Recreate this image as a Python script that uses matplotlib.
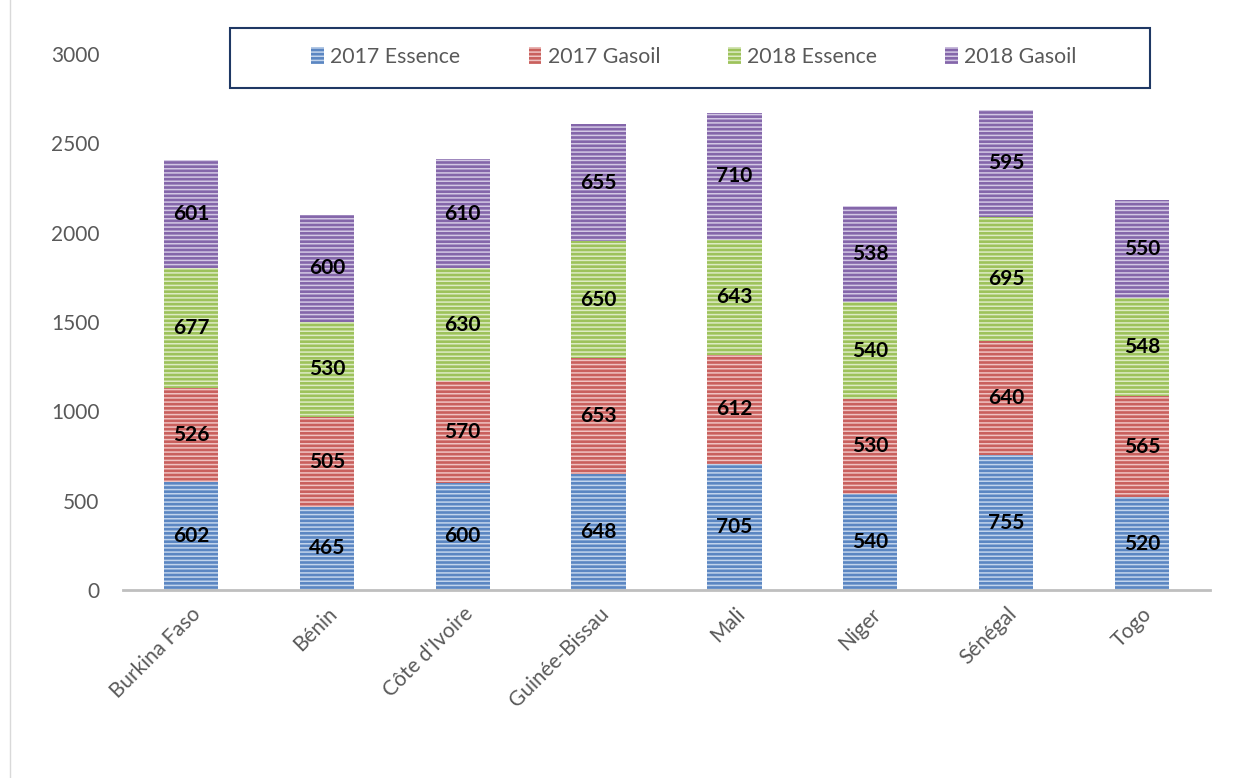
import matplotlib
matplotlib.use("Agg")
import matplotlib.pyplot as plt
import numpy as np
from matplotlib.patches import Rectangle
from matplotlib.lines import Line2D

countries = ["Burkina Faso", "Bénin", "Côte d'Ivoire", "Guinée-Bissau", "Mali", "Niger", "Sénégal", "Togo"]
ess_2017 = [602, 465, 600, 648, 705, 540, 755, 520]
gas_2017 = [526, 505, 570, 653, 612, 530, 640, 565]
ess_2018 = [677, 530, 630, 650, 643, 540, 695, 548]
gas_2018 = [601, 600, 610, 655, 710, 538, 595, 550]
series_names = ["2017 Essence", "2017 Gasoil", "2018 Essence", "2018 Gasoil"]
yticks = [0, 500, 1000, 1500, 2000, 2500, 3000]

colors = ["#5B86C2", "#C9605D", "#9DC25B", "#8466AA"]
hatch_colors = ["#C2D4EC", "#EFC3C2", "#DDEBC4", "#D3C8E4"]

plt.rcParams['font.family'] = ['Lato', 'DejaVu Sans']
plt.rcParams['hatch.linewidth'] = 1.1

fig = plt.figure(figsize=(12.34, 7.78), dpi=100)
ax = fig.add_axes([0.0997, 0.2416, 0.8808, 0.689])

x = np.arange(len(countries))
bottom = np.zeros(len(countries))
handles = []
for vals, name, c, hc in zip([ess_2017, gas_2017, ess_2018, gas_2018], series_names, colors, hatch_colors):
    vals = np.array(vals, dtype=float)
    bars = ax.bar(x, vals, 0.40, bottom=bottom, color=c, edgecolor=hc, linewidth=0,
                  hatch='----', label=name)
    for xi, b, v in zip(x, bottom, vals):
        ax.text(xi, b + v / 2, f"{int(v)}", ha='center', va='center',
                fontsize=15, fontweight='bold', color='black')
    handles.append(bars)
    bottom += vals

ax.set_xlim(-0.5, len(countries) - 0.5)
ax.set_ylim(0, 3000)
ax.set_yticks(yticks)
ax.set_yticklabels([str(t) for t in yticks])
ax.set_xticks(x)
ax.set_xticklabels(countries, rotation=45, ha='right', va='top', rotation_mode='anchor')
ax.tick_params(axis='both', length=0, labelsize=15, colors='#595959')
ax.tick_params(axis='y', pad=17)
ax.tick_params(axis='x', pad=10)
for s in ['top', 'right', 'left']:
    ax.spines[s].set_visible(False)
ax.spines['bottom'].set_color('#BFBFBF')
ax.spines['bottom'].set_linewidth(2)

# legend box
fig.patches.append(Rectangle((230/1234, 1-88/778), 920/1234, 60/778, transform=fig.transFigure,
                             fill=False, edgecolor='#1F3864', linewidth=1.5))
leg = fig.legend(handles=handles, labels=series_names, loc='center', bbox_to_anchor=(694/1234, 1-57/778),
                 ncol=4, frameon=False, fontsize=15.3, handlelength=0.6, handleheight=0.8,
                 handletextpad=0.3, columnspacing=3.2)
for t in leg.get_texts():
    t.set_color('#595959')

# left border line
fig.add_artist(Line2D([10/1234, 10/1234], [0, 1], transform=fig.transFigure, color='#D9D9D9', linewidth=1))

fig.savefig("out.png", dpi=100)
